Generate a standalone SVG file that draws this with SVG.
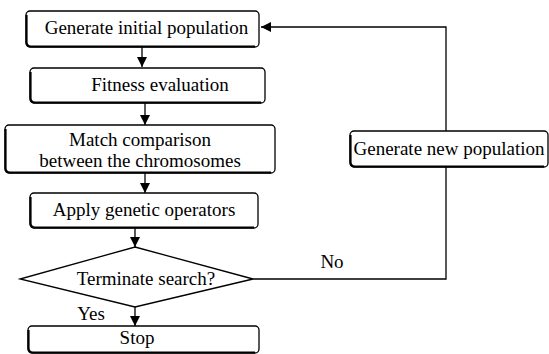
<svg xmlns="http://www.w3.org/2000/svg" width="549" height="354" viewBox="0 0 549 354">
<style>
.box{fill:#fff;stroke:#000;stroke-width:1.3}
.sh{fill:none;stroke:#000;stroke-width:2.2}
.ln{fill:none;stroke:#000;stroke-width:1.3}
</style>
<defs>
<marker id="ah" markerWidth="10" markerHeight="10" refX="10" refY="5" orient="auto" markerUnits="userSpaceOnUse">
<path d="M0,0 L10,5 L0,10 Z" fill="#000"/>
</marker>
</defs>
<rect width="549" height="354" fill="#fff"/>
<g id="connectors">
<line class="ln" x1="142" y1="47" x2="142" y2="67" marker-end="url(#ah)"/>
<line class="ln" x1="145" y1="103" x2="145" y2="125" marker-end="url(#ah)"/>
<line class="ln" x1="145" y1="173" x2="145" y2="193" marker-end="url(#ah)"/>
<line class="ln" x1="135" y1="228" x2="135" y2="247" marker-end="url(#ah)"/>
<line class="ln" x1="135" y1="307" x2="135" y2="326" marker-end="url(#ah)"/>
<polyline class="ln" points="253,279 446,279 446,27 261,27" marker-end="url(#ah)"/>
<text x="332" y="268" font-family="Liberation Serif" font-size="19" text-anchor="middle">No</text>
<text x="91" y="320" font-family="Liberation Serif" font-size="19" text-anchor="middle">Yes</text>
</g>
<g id="n1">
<rect class="box" x="26" y="11" width="233" height="36" rx="4"/>
<path class="sh" d="M26.5,15 V42 Q26.5,46.5 31,46.5 H255"/>
<text x="146.5" y="34" font-family="Liberation Serif" font-size="19" text-anchor="middle">Generate initial population</text>
</g>
<g id="n2">
<rect class="box" x="30" y="68" width="235" height="35" rx="4"/>
<path class="sh" d="M30.5,72 V98 Q30.5,102.5 35,102.5 H261"/>
<text x="160" y="91" font-family="Liberation Serif" font-size="19" text-anchor="middle">Fitness evaluation</text>
</g>
<g id="n3">
<rect class="box" x="5" y="125" width="270" height="48" rx="4"/>
<path class="sh" d="M5.5,129 V168 Q5.5,172.5 10,172.5 H271"/>
<text x="140" y="146" font-family="Liberation Serif" font-size="19" text-anchor="middle">Match comparison</text>
<text x="140" y="167" font-family="Liberation Serif" font-size="19" text-anchor="middle">between the chromosomes</text>
</g>
<g id="n4">
<rect class="box" x="30" y="193" width="228" height="35" rx="4"/>
<path class="sh" d="M30.5,197 V223 Q30.5,227.5 35,227.5 H254"/>
<text x="144" y="216" font-family="Liberation Serif" font-size="19" text-anchor="middle">Apply genetic operators</text>
</g>
<g id="n5">
<polygon class="box" points="135,247 253,279 135,307 20,279"/>
<text x="146" y="285" font-family="Liberation Serif" font-size="19" text-anchor="middle">Terminate search?</text>
</g>
<g id="n6">
<rect class="box" x="28" y="326" width="231" height="27" rx="4"/>
<path class="sh" d="M28.5,330 V348 Q28.5,352.5 33,352.5 H255"/>
<text x="137" y="344" font-family="Liberation Serif" font-size="19" text-anchor="middle">Stop</text>
</g>
<g id="n7">
<rect class="box" x="350" y="131" width="198" height="36" rx="4"/>
<path class="sh" d="M350.5,135 V162 Q350.5,166.5 355,166.5 H544"/>
<text x="449" y="155" font-family="Liberation Serif" font-size="19" text-anchor="middle">Generate new population</text>
</g>
</svg>
